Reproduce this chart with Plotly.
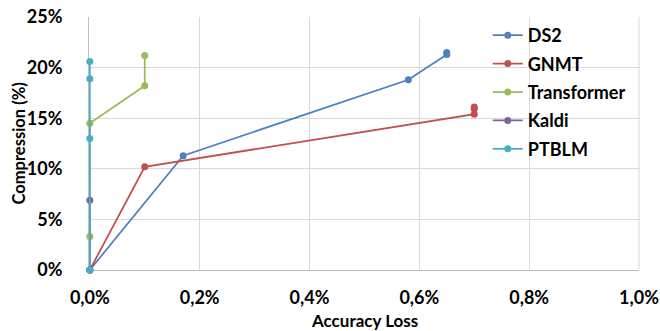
import plotly.graph_objects as go

# Accuracy loss (%) and compression (%) per series
ds2_x = [0.0, 0.17, 0.58, 0.65, 0.65]
ds2_y = [0.0, 11.3, 18.8, 21.3, 21.5]
gnmt_x = [0.0, 0.10, 0.70, 0.70, 0.70]
gnmt_y = [0.0, 10.2, 15.4, 15.9, 16.1]
transformer_x = [0.0, 0.0, 0.0, 0.10, 0.10]
transformer_y = [0.0, 3.3, 14.5, 18.2, 21.2]
kaldi_x = [0.0, 0.0]
kaldi_y = [0.0, 6.9]
ptblm_x = [0.0, 0.0, 0.0, 0.0]
ptblm_y = [0.0, 13.0, 18.9, 20.6]

series = [
    ("DS2", ds2_x, ds2_y, "#4F81BD"),
    ("GNMT", gnmt_x, gnmt_y, "#C0504D"),
    ("Transformer", transformer_x, transformer_y, "#9BBB59"),
    ("Kaldi", kaldi_x, kaldi_y, "#8064A2"),
    ("PTBLM", ptblm_x, ptblm_y, "#4BACC6"),
]

x_ticks = [0, 0.2, 0.4, 0.6, 0.8, 1.0]
x_tick_text = ["0,0%", "0,2%", "0,4%", "0,6%", "0,8%", "1,0%"]
y_ticks = [0, 5, 10, 15, 20, 25]
y_tick_text = ["0%", "5%", "10%", "15%", "20%", "25%"]
x_title = "Accuracy Loss"
y_title = "Compression (%)"

FONT = "Lato"

fig = go.Figure()
for name, xs, ys, col in series:
    fig.add_trace(go.Scatter(
        x=xs, y=ys, name=name,
        mode="lines+markers",
        line=dict(color=col, width=1.75),
        marker=dict(color=col, size=7),
        cliponaxis=False,
        legendgroup=name,
    ))

fig.update_layout(
    width=660, height=331,
    margin=dict(l=89, r=21, t=17, b=61, autoexpand=False),
    paper_bgcolor="white", plot_bgcolor="white",
    font=dict(family=FONT, size=17, color="black"),
    legend=dict(
        x=0.725, y=1.0, xanchor="left", yanchor="top",
        bgcolor="rgba(0,0,0,0)",
        font=dict(family=FONT, size=18, color="black", weight="bold"),
        itemwidth=30, tracegroupgap=2,
    ),
    showlegend=True,
)
fig.update_xaxes(
    range=[-0.0015, 1.0], tickvals=x_ticks, ticktext=x_tick_text,
    showgrid=True, gridcolor="#D9D9D9", gridwidth=1,
    showline=True, linecolor="#BFBFBF", linewidth=1,
    zeroline=False, ticks="outside", ticklen=11, tickcolor="rgba(0,0,0,0)",
    tickfont=dict(family=FONT, size=18, weight="bold"),
    layer="below traces", automargin=False,
)
fig.update_yaxes(
    range=[0, 25], tickvals=y_ticks, ticktext=y_tick_text,
    showgrid=True, gridcolor="#D9D9D9", gridwidth=1,
    showline=True, linecolor="#BFBFBF", linewidth=1,
    zeroline=False, ticks="outside", ticklen=22, tickcolor="rgba(0,0,0,0)",
    tickfont=dict(family=FONT, size=18, weight="bold"),
    layer="below traces", automargin=False,
)
fig.add_annotation(text="<b>" + x_title + "</b>", xref="paper", yref="paper",
                   x=0.5, y=-50 / 253, xanchor="center", yanchor="middle",
                   showarrow=False, font=dict(family=FONT, size=17))
fig.add_annotation(text="<b>" + y_title + "</b>", xref="paper", yref="paper",
                   x=-71 / 550, y=0.5, xanchor="center", yanchor="middle",
                   textangle=-90, showarrow=False, font=dict(family=FONT, size=16.5))
fig.add_shape(type="line", xref="paper", yref="paper", x0=1, x1=1, y0=0, y1=1,
              line=dict(color="#D9D9D9", width=1), layer="below")

fig.write_html("out.html", config={"displayModeBar": False},
               post_script="document.body.style.margin='0';")
